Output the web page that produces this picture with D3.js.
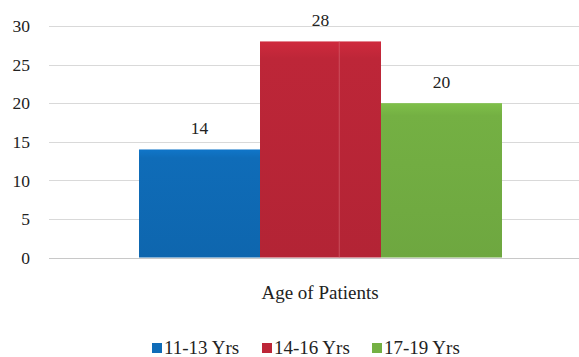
<!DOCTYPE html>
<html><head><meta charset="utf-8">
<script src="https://cdn.jsdelivr.net/npm/d3@7"></script>
<style>body{margin:0;background:#fff}svg{display:block}</style>
</head><body>
<svg id="c" width="579" height="357"></svg>
<script>
const categories = ["11-13 Yrs", "14-16 Yrs", "17-19 Yrs"];
const values = [14, 28, 20];
const yTicks = [0, 5, 10, 15, 20, 25, 30];
const axisTitle = "Age of Patients";
const colors = ["#0f6cb8", "#bd2638", "#74b043"];

const svg = d3.select("#c");
const font = "'Liberation Serif', 'Times New Roman', serif";
const fs = 17.5;
const y = d3.scaleLinear().domain([0, 30]).range([257.5, 26]);
const x = d3.scaleBand().domain(categories).range([139, 502]).padding(0);

// gradients
const defs = svg.append("defs");
colors.forEach((c, i) => {
  const g = defs.append("linearGradient").attr("id", "g" + i).attr("x1", 0).attr("x2", 0).attr("y1", 0).attr("y2", 1);
  g.append("stop").attr("offset", "0").attr("stop-color", d3.color(c).brighter(0.25));
  g.append("stop").attr("offset", "0.08").attr("stop-color", c);
  g.append("stop").attr("offset", "1").attr("stop-color", d3.color(c).darker(0.15));
});

// y axis labels
const yAxis = d3.axisLeft(y).tickValues(yTicks).tickSize(0).tickPadding(0);
const ga = svg.append("g").attr("transform", "translate(30,0)").call(yAxis);
ga.select(".domain").remove();
ga.selectAll("text").attr("font-family", font).attr("font-size", fs).attr("fill", "#222").attr("dy", "0.33em");

// gridlines
svg.append("g").selectAll("line").data(yTicks).join("line")
  .attr("x1", 49).attr("x2", 579)
  .attr("y1", d => Math.round(y(d)) + 0.5).attr("y2", d => Math.round(y(d)) + 0.5)
  .attr("stroke", d => d === 0 ? "#c8c8c8" : "#d9d9d9").attr("stroke-width", 1);

// bars
svg.append("g").selectAll("rect").data(values).join("rect")
  .attr("x", (d, i) => x(categories[i]))
  .attr("width", x.bandwidth())
  .attr("y", d => y(d))
  .attr("height", d => y(0) - y(d))
  .attr("fill", (d, i) => "url(#g" + i + ")");

// faint line inside red bar
svg.append("line")
  .attr("x1", x(categories[1]) + x.bandwidth() * 0.655).attr("x2", x(categories[1]) + x.bandwidth() * 0.655)
  .attr("y1", y(values[1])).attr("y2", y(0))
  .attr("stroke", "#d86a76").attr("stroke-width", 1).attr("opacity", 0.6);

// value labels
svg.append("g").selectAll("text").data(values).join("text")
  .attr("x", (d, i) => x(categories[i]) + x.bandwidth() / 2)
  .attr("y", d => y(d) - 15.5)
  .attr("text-anchor", "middle")
  .attr("font-family", font).attr("font-size", fs).attr("fill", "#222")
  .text(d => d);

// axis title
svg.append("text").attr("x", 320).attr("y", 299).attr("text-anchor", "middle")
  .attr("font-family", font).attr("font-size", 19).attr("fill", "#222").text(axisTitle);

// legend
const legX = [152, 262, 372];
const lg = svg.append("g").selectAll("g").data(categories).join("g")
  .attr("transform", (d, i) => `translate(${legX[i]},0)`);
lg.append("rect").attr("x", 0).attr("y", 343).attr("width", 10).attr("height", 10)
  .attr("fill", (d, i) => colors[i]);
lg.append("text").attr("x", 12).attr("y", 354)
  .attr("font-family", font).attr("font-size", 19).attr("fill", "#222").text(d => d);
</script>
</body></html>
